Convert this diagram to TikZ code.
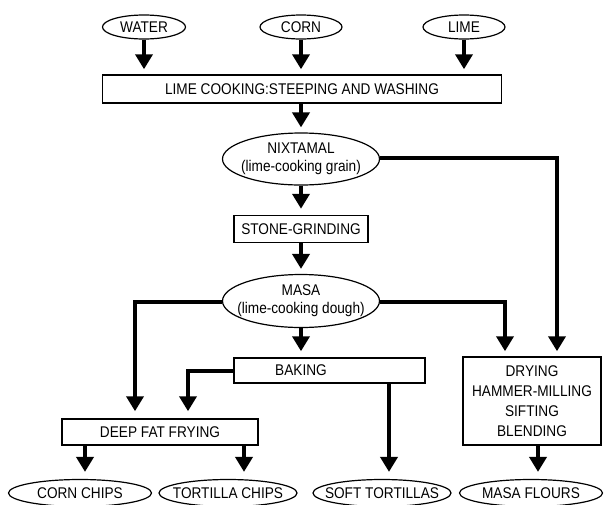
\documentclass[tikz,border=0pt]{standalone}
\usepackage{fontspec}
\setmainfont[FakeStretch=0.88]{Liberation Sans}
\usetikzlibrary{arrows.meta,shapes.geometric}
\begin{document}
\begin{tikzpicture}[x=1pt,y=-1pt, font=\fontsize{15.5}{18}\selectfont,
 ell/.style={ellipse, draw, line width=1.2pt, inner sep=0pt},
 rbox/.style={rectangle, draw, line width=1.5pt, inner sep=0pt},
 txt/.style={inner sep=0pt, align=center},
 flow/.style={line width=4pt, line join=miter, -{Triangle[width=17pt,length=15pt]}},
]
\useasboundingbox (0,0) rectangle (608,504);
% top inputs
\node[ell, minimum width=83pt, minimum height=24pt] (water) at (144,27) {};
\node[txt] (watert) at (water) {WATER};
\node[ell, minimum width=82pt, minimum height=24pt] (corn) at (301,27) {};
\node[txt] (cornt) at (corn) {CORN};
\node[ell, minimum width=82pt, minimum height=24pt] (lime) at (464,27) {};
\node[txt] (limet) at (lime) {LIME};
\node[rbox, minimum width=399pt, minimum height=28pt] (cook) at (302,89) {LIME COOKING:STEEPING AND WASHING};
\node[ell, minimum width=157pt, minimum height=52pt] (nixt) at (301,159) {};
\node[txt] (nixtt) at (nixt) {NIXTAMAL\\(lime-cooking grain)};
\node[rbox, minimum width=134pt, minimum height=27pt] (stone) at (301,229) {STONE-GRINDING};
\node[ell, minimum width=157pt, minimum height=53pt] (masa) at (301,301) {};
\node[txt] (masat) at (masa) {MASA\\(lime-cooking dough)};
\node[rbox, minimum width=191pt, minimum height=25pt] (baking) at (329.5,370.5) {};
\node[txt] (bakingt) at (301,370.5) {BAKING};
\node[rbox, minimum width=196pt, minimum height=26pt] (dff) at (160,432) {DEEP FAT FRYING};
\node[rbox, minimum width=138pt, minimum height=88pt, align=center, font=\fontsize{15.5}{20}\selectfont] (dry) at (532,401) {DRYING\\HAMMER-MILLING\\SIFTING\\BLENDING};
% outputs
\node[ell, minimum width=143pt, minimum height=27pt] (cc) at (80,493) {};
\node[txt] (cct) at (cc) {CORN CHIPS};
\node[ell, minimum width=138pt, minimum height=27pt] (tc) at (228,493) {};
\node[txt] (tct) at (tc) {TORTILLA CHIPS};
\node[ell, minimum width=138pt, minimum height=27pt] (st) at (382,493) {};
\node[txt] (stt) at (st) {SOFT TORTILLAS};
\node[ell, minimum width=143pt, minimum height=27pt] (mf) at (531,493) {};
\node[txt] (mft) at (mf) {MASA FLOURS};
% coordinates
\coordinate (nxr) at (557,158);
\coordinate (msr) at (505,302);
\coordinate (msl) at (135,302);
\coordinate (bkl) at (188,371);
\coordinate (bkx) at (389,0);
\coordinate (dfa) at (85,0);
\coordinate (dfb) at (244,0);
\coordinate (dra) at (538,0);
% connectors
\draw[flow, shorten >=5pt] (water.south) -- (water.south |- cook.north);
\draw[flow, shorten >=5pt] (corn.south) -- (corn.south |- cook.north);
\draw[flow, shorten >=5pt] (lime.south) -- (lime.south |- cook.north);
\draw[flow, shorten >=5pt] (cook.south -| nixt.north) -- (nixt.north);
\draw[flow, shorten >=6pt] (nixt.south) -- (stone.north);
\draw[flow, shorten >=5pt] (stone.south) -- (masa.north);
\draw[flow, shorten >=5pt] (nixt.east |- nxr) -- (nxr) -- (nxr |- dry.north);
\draw[flow, shorten >=5pt] (masa.east |- msr) -- (msr) -- (msr |- dry.north);
\draw[flow, shorten >=7pt] (masa.west |- msl) -- (msl) -- (msl |- dff.north);
\draw[flow, shorten >=6pt] (masa.south) -- (masa.south |- baking.north);
\draw[flow, shorten >=7pt] (baking.west |- bkl) -- (bkl) -- (bkl |- dff.north);
\draw[flow, shorten >=7pt] (bkx |- baking.south) -- (bkx |- st.north);
\draw[flow, shorten >=7pt] (dfa |- dff.south) -- (dfa |- cc.north);
\draw[flow, shorten >=7pt] (dfb |- dff.south) -- (dfb |- tc.north);
\draw[flow, shorten >=7pt] (dra |- dry.south) -- (dra |- mf.north);
\end{tikzpicture}
\end{document}
